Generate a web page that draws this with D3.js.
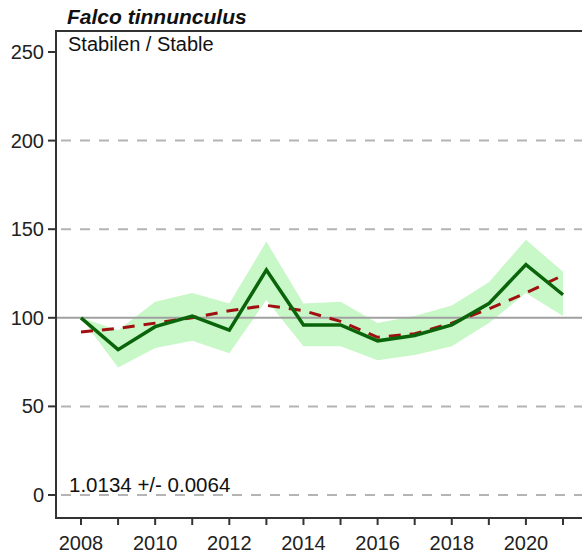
<!DOCTYPE html>
<html>
<head>
<meta charset="utf-8">
<script src="https://cdn.jsdelivr.net/npm/d3@7"></script>
<style>
  body { margin: 0; background: #fff; }
  text { font-family: Arial, "Liberation Sans", sans-serif; }
</style>
</head>
<body>
<div id="chart"></div>
<script>
// Data
const years = [2008, 2009, 2010, 2011, 2012, 2013, 2014, 2015, 2016, 2017, 2018, 2019, 2020, 2021];
const index = [100, 82, 95, 101, 93, 127, 96, 96, 87, 90, 96, 108, 130, 113];
const upper = [100, 93, 109, 114, 108, 143, 108, 109, 97, 101, 107, 120, 144, 126];
const lower = [100, 72, 83, 87, 80, 110, 84, 84, 76, 79, 84, 97, 114, 101];
const trend = [92, 94, 97, 100, 104, 107, 104, 98, 89, 91, 97, 105, 114, 124];
const yTicks = [0, 50, 100, 150, 200, 250];
const xTicks = [2008, 2009, 2010, 2011, 2012, 2013, 2014, 2015, 2016, 2017, 2018, 2019, 2020, 2021];
const xLabels = [2008, 2010, 2012, 2014, 2016, 2018, 2020];
const title = 'Falco tinnunculus';
const subtitle = 'Stabilen / Stable';
const slopeText = '1.0134 +/- 0.0064';

const width = 582;
const height = 553;
const margin = { left: 56, top: 31, bottom: 518 };

const svg = d3.select('#chart')
  .append('svg')
  .attr('width', width)
  .attr('height', height);

// 2008 -> 81px, 2021 -> 563px
const x = d3.scaleLinear()
  .domain([2008, 2021])
  .range([81, 563]);

// 0 -> 495px, 250 -> 52px
const y = d3.scaleLinear()
  .domain([0, 250])
  .range([495, 52]);

// grid lines (dashed), 100 is solid
svg.selectAll('.grid')
  .data(yTicks.filter(d => d !== 100 && d !== 250))
  .enter()
  .append('line')
  .attr('class', 'grid')
  .attr('x1', margin.left + 2)
  .attr('x2', width)
  .attr('y1', d => y(d))
  .attr('y2', d => y(d))
  .style('stroke', '#b4b4b4')
  .style('stroke-width', 2)
  .style('stroke-dasharray', '10,9')
  .style('stroke-dashoffset', -3);

// confidence band
const band = d3.area()
  .x((d, i) => x(years[i]))
  .y0((d, i) => y(lower[i]))
  .y1((d, i) => y(upper[i]));

svg.append('path')
  .datum(years)
  .attr('d', band)
  .style('fill', '#c8f7c8')
  .style('stroke', 'none');

// baseline 100
svg.append('line')
  .attr('x1', margin.left)
  .attr('x2', width)
  .attr('y1', y(100))
  .attr('y2', y(100))
  .style('stroke', '#a0a0a0')
  .style('stroke-width', 2);

const line = d3.line()
  .x((d, i) => x(years[i]))
  .y(d => y(d));

// trend (dashed red)
svg.append('path')
  .datum(trend)
  .attr('d', line)
  .style('fill', 'none')
  .style('stroke', '#a01010')
  .style('stroke-width', 3)
  .style('stroke-dasharray', '12,9');

// index (green)
svg.append('path')
  .datum(index)
  .attr('d', line)
  .style('fill', 'none')
  .style('stroke', '#0a640a')
  .style('stroke-width', 3.5)
  .style('stroke-linejoin', 'miter');

// frame: left, top, bottom
const axisColor = '#333';
svg.append('path')
  .attr('d', `M${width},${margin.top}H${margin.left}V${margin.bottom}H${width}`)
  .style('fill', 'none')
  .style('stroke', axisColor)
  .style('stroke-width', 2);

// y axis ticks and labels
const yAxis = svg.append('g');
yAxis.selectAll('line')
  .data(yTicks)
  .enter()
  .append('line')
  .attr('x1', 48)
  .attr('x2', margin.left)
  .attr('y1', d => y(d))
  .attr('y2', d => y(d))
  .style('stroke', axisColor)
  .style('stroke-width', 2);
yAxis.selectAll('text')
  .data(yTicks)
  .enter()
  .append('text')
  .attr('x', 44)
  .attr('y', d => y(d) + 7)
  .attr('text-anchor', 'end')
  .style('font-size', '20px')
  .style('fill', '#222')
  .text(d => d);

// x axis ticks and labels
const xAxis = svg.append('g');
xAxis.selectAll('line')
  .data(xTicks)
  .enter()
  .append('line')
  .attr('x1', d => x(d))
  .attr('x2', d => x(d))
  .attr('y1', margin.bottom)
  .attr('y2', margin.bottom + 7)
  .style('stroke', axisColor)
  .style('stroke-width', 2);
xAxis.selectAll('text')
  .data(xLabels)
  .enter()
  .append('text')
  .attr('x', d => x(d))
  .attr('y', 550)
  .attr('text-anchor', 'middle')
  .style('font-size', '20px')
  .style('fill', '#222')
  .text(d => d);

// texts
svg.append('text')
  .attr('x', 67)
  .attr('y', 24)
  .style('font-size', '21px')
  .style('font-weight', 'bold')
  .style('font-style', 'italic')
  .style('fill', '#111')
  .text(title);

svg.append('text')
  .attr('x', 68)
  .attr('y', 51)
  .style('font-size', '20px')
  .style('fill', '#111')
  .text(subtitle);

svg.append('text')
  .attr('x', 69)
  .attr('y', 492)
  .style('font-size', '20.5px')
  .style('fill', '#111')
  .text(slopeText);
</script>
</body>
</html>
